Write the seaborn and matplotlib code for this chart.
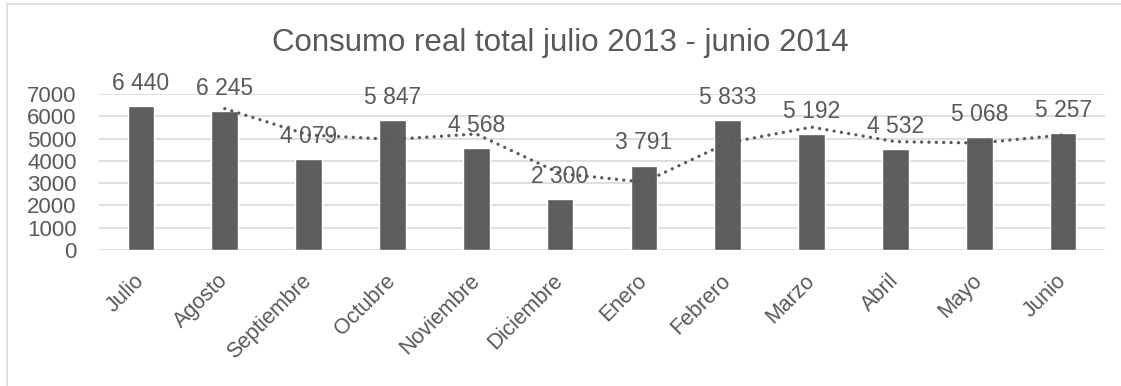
import matplotlib
matplotlib.use("Agg")
import matplotlib.pyplot as plt
from matplotlib.lines import Line2D
import seaborn as sns
import pandas as pd

months = ["Julio", "Agosto", "Septiembre", "Octubre", "Noviembre", "Diciembre",
          "Enero", "Febrero", "Marzo", "Abril", "Mayo", "Junio"]
consumo = [6440, 6245, 4079, 5847, 4568, 2300, 3791, 5833, 5192, 4532, 5068, 5257]
y_ticks = [0, 1000, 2000, 3000, 4000, 5000, 6000, 7000]
title = "Consumo real total julio 2013 - junio 2014"

TEXT = "#595959"
BAR = "#5e5e5e"
GRID = "#d9d9d9"

sns.set_theme(style="white")
plt.rcParams["font.family"] = ["Liberation Sans", "DejaVu Sans"]

df = pd.DataFrame({"mes": months, "consumo": consumo})
# two-period moving average trend line
df["media_movil"] = df["consumo"].rolling(2).mean()

fig = plt.figure(figsize=(11.21, 3.86), dpi=100)
W, H = 1121, 386
ax = fig.add_axes([99 / W, 1 - 250 / H, (1105 - 99) / W, (250 - 94) / H])

sns.barplot(data=df, x="mes", y="consumo", color=BAR, width=0.32,
            saturation=1, ax=ax, zorder=2)
sns.lineplot(data=df, x="mes", y="media_movil", ax=ax, color=TEXT,
             linewidth=2.4, linestyle=(0, (0.01, 2.2)),
             dash_capstyle="round", zorder=3, sort=False)

for i, v in enumerate(consumo):
    ax.annotate(f"{v:,}".replace(",", " "), (i, v), xytext=(0, 8),
                textcoords="offset points", ha="center", va="bottom",
                fontsize=16.5, color=TEXT, zorder=4)

ax.set_ylim(0, 7000)
ax.set_xlim(-0.5, len(months) - 0.5)
ax.set_yticks(y_ticks)
ax.set_yticklabels([str(t) for t in y_ticks])
ax.set_xlabel("")
ax.set_ylabel("")
ax.grid(axis="y", color=GRID, linewidth=1.2, zorder=0)
ax.set_axisbelow(True)
for s in ax.spines.values():
    s.set_visible(False)
ax.tick_params(axis="y", length=0, pad=16, labelsize=16, labelcolor=TEXT)
ax.tick_params(axis="x", length=0, pad=20, labelsize=15.5, labelcolor=TEXT)
for lab in ax.get_xticklabels():
    lab.set_rotation(45)
    lab.set_ha("right")
    lab.set_va("center")
    lab.set_rotation_mode("anchor")

fig.text(560 / W, 1 - 43 / H, title, ha="center", va="center",
         fontsize=22.5, color=TEXT)

# chart frame (top and left edges)
fig.add_artist(Line2D([7 / W, 1], [1 - 4 / H, 1 - 4 / H], color=GRID,
                      linewidth=1.2, transform=fig.transFigure))
fig.add_artist(Line2D([7 / W, 7 / W], [0, 1 - 4 / H], color=GRID,
                      linewidth=1.2, transform=fig.transFigure))

fig.savefig("out.png", dpi=100, facecolor="white")
